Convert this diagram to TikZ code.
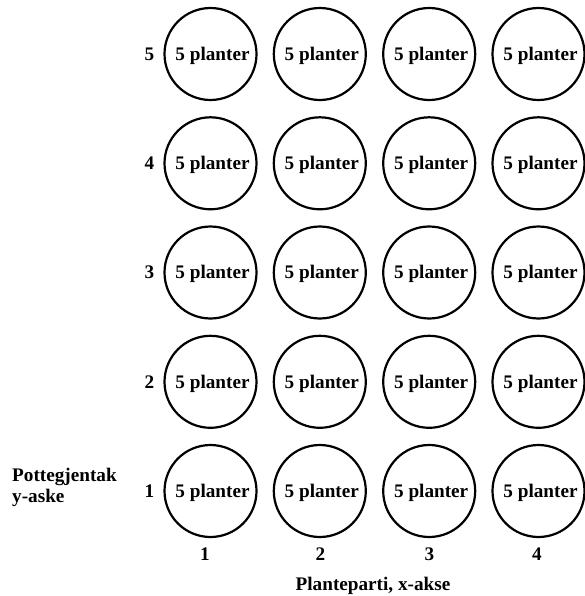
\documentclass[tikz,border=0pt]{standalone}
\usepackage{fontspec}
\setmainfont{Liberation Serif}
\begin{document}
\begin{tikzpicture}[x=1pt,y=-1pt,
  lbl/.style={font=\bfseries\fontsize{19.2}{21}\selectfont, inner sep=0pt},
  pot/.style={circle, draw, line width=2.2pt, minimum size=92pt, inner sep=0pt},
  potlbl/.style={lbl, anchor=base, yshift=-6.3pt}]
  \useasboundingbox (0,0) rectangle (584,596);
  % grid of pots: 4 plant lots (columns) x 5 pot repeats (rows)
  \foreach \c/\x in {1/210.5,2/319.8,3/429.2,4/538.5}{
    \foreach \r/\y in {1/491,2/381.8,3/272.5,4/163.3,5/54}{
      \node[pot] (p\c\r) at (\x,\y) {};
      \node[potlbl] (t\c\r) at ([xshift=2pt]p\c\r.center) {5 planter};
    }
  }
  % row numbers
  \foreach \r/\y in {1/491,2/381.8,3/272.5,4/163.3,5/54}{
    \node[lbl] (row\r) at (149.5,\y) {\r};
  }
  % column numbers
  \foreach \c/\x in {1/205,2/320.5,3/429.5,4/537}{
    \node[lbl] (col\c) at (\x,554) {\c};
  }
  % axis titles
  \node[lbl, anchor=west, align=left] (ylab) at (12,487) {Pottegjentak\\y-aske};
  \node[lbl] (xlab) at (373,586) {Planteparti, x-akse};
\end{tikzpicture}
\end{document}
